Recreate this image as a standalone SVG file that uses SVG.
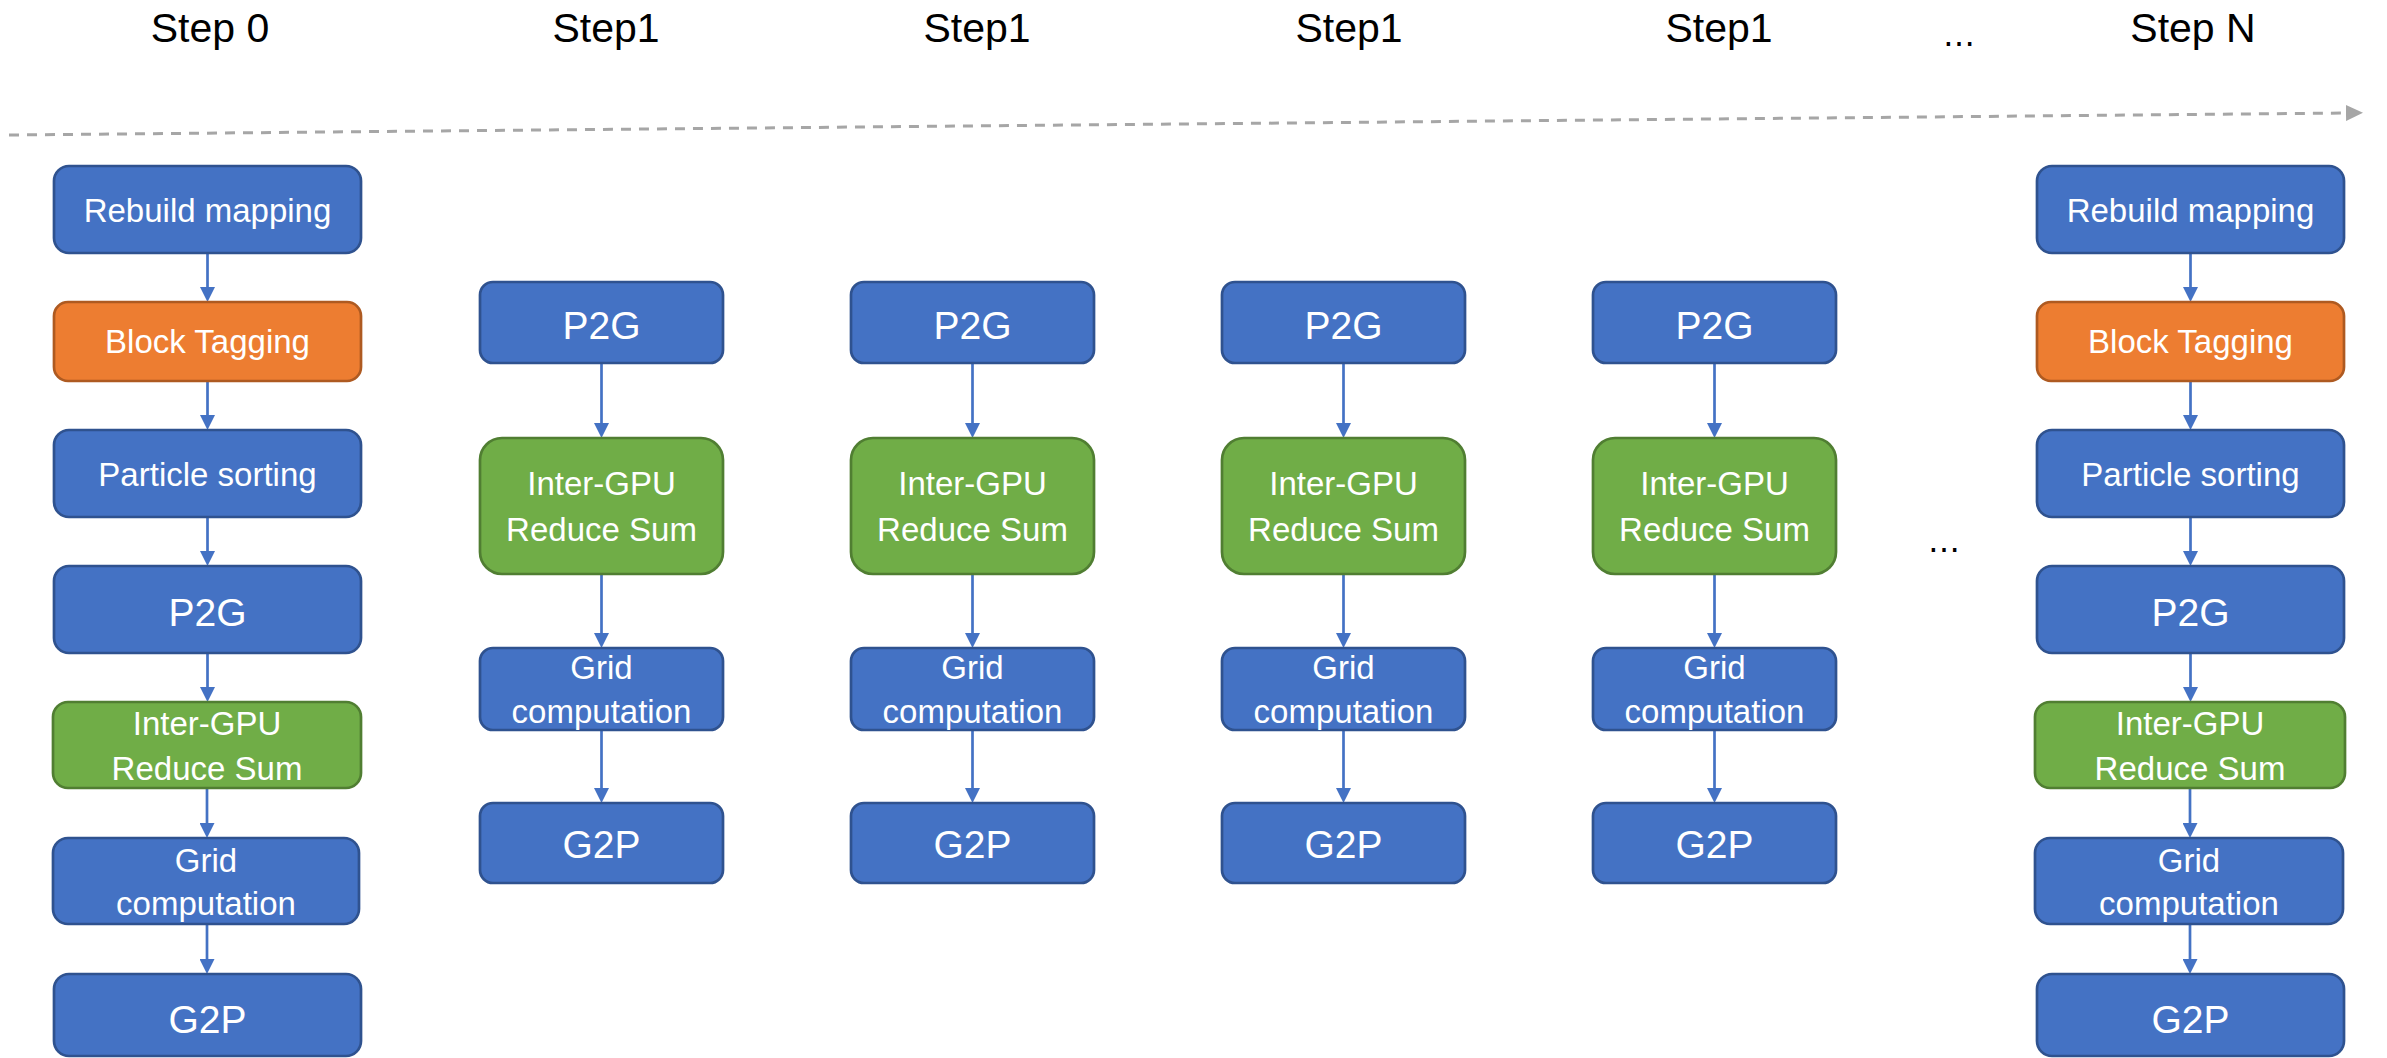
<svg xmlns="http://www.w3.org/2000/svg" width="2387" height="1058" viewBox="0 0 2387 1058">
  <style>
    .blue { fill: #4472C4; stroke: #2F528F; stroke-width: 2.7; }
    .orange { fill: #ED7D31; stroke: #AE5A21; stroke-width: 2.7; }
    .green { fill: #70AD47; stroke: #507E32; stroke-width: 2.7; }
    .lbl { fill: #FFFFFF; font-family: "Liberation Sans", Arial, sans-serif; font-size: 33px; text-anchor: middle; }
    .big { font-size: 39px; }
    .head { fill: #000000; font-family: "Liberation Sans", Arial, sans-serif; font-size: 41px; text-anchor: middle; }
    .dots { fill: #000000; font-family: "DejaVu Sans", sans-serif; font-size: 32px; text-anchor: middle; }
    .flow { stroke: #4472C4; stroke-width: 2.7; fill: none; marker-end: url(#arrow); }
    .timeline { stroke: #A6A6A6; stroke-width: 3; stroke-dasharray: 10 8; fill: none; marker-end: url(#garrow); }
  </style>
  <defs>
    <marker id="arrow" markerUnits="userSpaceOnUse" markerWidth="15" markerHeight="15" refX="5" refY="7.5" orient="auto">
      <path d="M0,0 L15,7.5 L0,15 Z" fill="#4472C4"/>
    </marker>
    <marker id="garrow" markerUnits="userSpaceOnUse" markerWidth="17" markerHeight="16" refX="2" refY="8" orient="auto">
      <path d="M0,0 L17,8 L0,16 Z" fill="#A6A6A6"/>
    </marker>
  </defs>

  <!-- step headings -->
  <g id="headings">
    <text class="head" x="210" y="42">Step 0</text>
    <text class="head" x="606" y="42">Step1</text>
    <text class="head" x="977" y="42">Step1</text>
    <text class="head" x="1349" y="42">Step1</text>
    <text class="head" x="1719" y="42">Step1</text>
    <text class="dots" x="1959" y="46">…</text>
    <text class="head" x="2193" y="42">Step N</text>
  </g>

  <!-- time axis -->
  <g id="timeline">
    <line class="timeline" x1="9" y1="135" x2="2348" y2="113"/>
  </g>

  <text id="gap-dots" class="dots" x="1944" y="552">…</text>

  <!-- connectors -->
  <g id="connectors">
    <!-- step 0 -->
    <line class="flow" x1="207.5" y1="253" x2="207.5" y2="292"/>
    <line class="flow" x1="207.5" y1="381" x2="207.5" y2="420"/>
    <line class="flow" x1="207.5" y1="517" x2="207.5" y2="556"/>
    <line class="flow" x1="207.5" y1="653" x2="207.5" y2="692"/>
    <line class="flow" x1="207" y1="788" x2="207" y2="828"/>
    <line class="flow" x1="207" y1="924" x2="207" y2="964"/>
    <!-- step 1 (a) -->
    <line class="flow" x1="601.5" y1="363" x2="601.5" y2="428"/>
    <line class="flow" x1="601.5" y1="574" x2="601.5" y2="638"/>
    <line class="flow" x1="601.5" y1="730" x2="601.5" y2="793"/>
    <!-- step 1 (b) -->
    <line class="flow" x1="972.5" y1="363" x2="972.5" y2="428"/>
    <line class="flow" x1="972.5" y1="574" x2="972.5" y2="638"/>
    <line class="flow" x1="972.5" y1="730" x2="972.5" y2="793"/>
    <!-- step 1 (c) -->
    <line class="flow" x1="1343.5" y1="363" x2="1343.5" y2="428"/>
    <line class="flow" x1="1343.5" y1="574" x2="1343.5" y2="638"/>
    <line class="flow" x1="1343.5" y1="730" x2="1343.5" y2="793"/>
    <!-- step 1 (d) -->
    <line class="flow" x1="1714.5" y1="363" x2="1714.5" y2="428"/>
    <line class="flow" x1="1714.5" y1="574" x2="1714.5" y2="638"/>
    <line class="flow" x1="1714.5" y1="730" x2="1714.5" y2="793"/>
    <!-- step N -->
    <line class="flow" x1="2190.5" y1="253" x2="2190.5" y2="292"/>
    <line class="flow" x1="2190.5" y1="381" x2="2190.5" y2="420"/>
    <line class="flow" x1="2190.5" y1="517" x2="2190.5" y2="556"/>
    <line class="flow" x1="2190.5" y1="653" x2="2190.5" y2="692"/>
    <line class="flow" x1="2190" y1="788" x2="2190" y2="828"/>
    <line class="flow" x1="2190" y1="924" x2="2190" y2="964"/>
  </g>

  <!-- step 0 pipeline -->
  <g id="s0-rebuild"><rect class="blue" x="54" y="166" width="307" height="87" rx="15"/><text class="lbl" x="207.5" y="222">Rebuild mapping</text></g>
  <g id="s0-tagging"><rect class="orange" x="54" y="302" width="307" height="79" rx="14"/><text class="lbl" x="207.5" y="353">Block Tagging</text></g>
  <g id="s0-sorting"><rect class="blue" x="54" y="430" width="307" height="87" rx="15"/><text class="lbl" x="207.5" y="486">Particle sorting</text></g>
  <g id="s0-p2g"><rect class="blue" x="54" y="566" width="307" height="87" rx="15"/><text class="lbl big" x="207.5" y="626">P2G</text></g>
  <g id="s0-reduce"><rect class="green" x="53" y="702" width="308" height="86" rx="15"/><text class="lbl" x="207" y="735">Inter-GPU</text><text class="lbl" x="207" y="780">Reduce Sum</text></g>
  <g id="s0-grid"><rect class="blue" x="53" y="838" width="306" height="86" rx="15"/><text class="lbl" x="206" y="872">Grid</text><text class="lbl" x="206" y="915">computation</text></g>
  <g id="s0-g2p"><rect class="blue" x="54" y="974" width="307" height="82" rx="15"/><text class="lbl big" x="207.5" y="1033">G2P</text></g>

  <!-- step 1 pipelines -->
  <g id="s1a-p2g"><rect class="blue" x="480" y="282" width="243" height="81" rx="13"/><text class="lbl big" x="601.5" y="339">P2G</text></g>
  <g id="s1a-reduce"><rect class="green" x="480" y="438" width="243" height="136" rx="22"/><text class="lbl" x="601.5" y="495">Inter-GPU</text><text class="lbl" x="601.5" y="541">Reduce Sum</text></g>
  <g id="s1a-grid"><rect class="blue" x="480" y="648" width="243" height="82" rx="13"/><text class="lbl" x="601.5" y="679">Grid</text><text class="lbl" x="601.5" y="723">computation</text></g>
  <g id="s1a-g2p"><rect class="blue" x="480" y="803" width="243" height="80" rx="13"/><text class="lbl big" x="601.5" y="858">G2P</text></g>

  <g id="s1b-p2g"><rect class="blue" x="851" y="282" width="243" height="81" rx="13"/><text class="lbl big" x="972.5" y="339">P2G</text></g>
  <g id="s1b-reduce"><rect class="green" x="851" y="438" width="243" height="136" rx="22"/><text class="lbl" x="972.5" y="495">Inter-GPU</text><text class="lbl" x="972.5" y="541">Reduce Sum</text></g>
  <g id="s1b-grid"><rect class="blue" x="851" y="648" width="243" height="82" rx="13"/><text class="lbl" x="972.5" y="679">Grid</text><text class="lbl" x="972.5" y="723">computation</text></g>
  <g id="s1b-g2p"><rect class="blue" x="851" y="803" width="243" height="80" rx="13"/><text class="lbl big" x="972.5" y="858">G2P</text></g>

  <g id="s1c-p2g"><rect class="blue" x="1222" y="282" width="243" height="81" rx="13"/><text class="lbl big" x="1343.5" y="339">P2G</text></g>
  <g id="s1c-reduce"><rect class="green" x="1222" y="438" width="243" height="136" rx="22"/><text class="lbl" x="1343.5" y="495">Inter-GPU</text><text class="lbl" x="1343.5" y="541">Reduce Sum</text></g>
  <g id="s1c-grid"><rect class="blue" x="1222" y="648" width="243" height="82" rx="13"/><text class="lbl" x="1343.5" y="679">Grid</text><text class="lbl" x="1343.5" y="723">computation</text></g>
  <g id="s1c-g2p"><rect class="blue" x="1222" y="803" width="243" height="80" rx="13"/><text class="lbl big" x="1343.5" y="858">G2P</text></g>

  <g id="s1d-p2g"><rect class="blue" x="1593" y="282" width="243" height="81" rx="13"/><text class="lbl big" x="1714.5" y="339">P2G</text></g>
  <g id="s1d-reduce"><rect class="green" x="1593" y="438" width="243" height="136" rx="22"/><text class="lbl" x="1714.5" y="495">Inter-GPU</text><text class="lbl" x="1714.5" y="541">Reduce Sum</text></g>
  <g id="s1d-grid"><rect class="blue" x="1593" y="648" width="243" height="82" rx="13"/><text class="lbl" x="1714.5" y="679">Grid</text><text class="lbl" x="1714.5" y="723">computation</text></g>
  <g id="s1d-g2p"><rect class="blue" x="1593" y="803" width="243" height="80" rx="13"/><text class="lbl big" x="1714.5" y="858">G2P</text></g>

  <!-- step N pipeline -->
  <g id="sN-rebuild"><rect class="blue" x="2037" y="166" width="307" height="87" rx="15"/><text class="lbl" x="2190.5" y="222">Rebuild mapping</text></g>
  <g id="sN-tagging"><rect class="orange" x="2037" y="302" width="307" height="79" rx="14"/><text class="lbl" x="2190.5" y="353">Block Tagging</text></g>
  <g id="sN-sorting"><rect class="blue" x="2037" y="430" width="307" height="87" rx="15"/><text class="lbl" x="2190.5" y="486">Particle sorting</text></g>
  <g id="sN-p2g"><rect class="blue" x="2037" y="566" width="307" height="87" rx="15"/><text class="lbl big" x="2190.5" y="626">P2G</text></g>
  <g id="sN-reduce"><rect class="green" x="2035" y="702" width="310" height="86" rx="15"/><text class="lbl" x="2190" y="735">Inter-GPU</text><text class="lbl" x="2190" y="780">Reduce Sum</text></g>
  <g id="sN-grid"><rect class="blue" x="2035" y="838" width="308" height="86" rx="15"/><text class="lbl" x="2189" y="872">Grid</text><text class="lbl" x="2189" y="915">computation</text></g>
  <g id="sN-g2p"><rect class="blue" x="2037" y="974" width="307" height="82" rx="15"/><text class="lbl big" x="2190.5" y="1033">G2P</text></g>
</svg>
